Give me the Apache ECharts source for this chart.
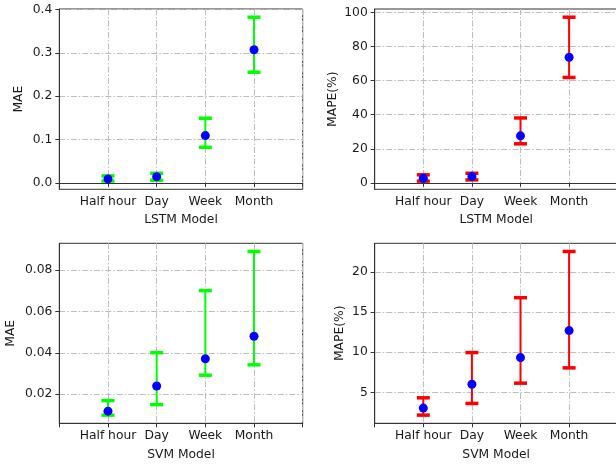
<!DOCTYPE html>
<html>
<head>
<meta charset="utf-8">
<script src="https://cdn.jsdelivr.net/npm/echarts@6/dist/echarts.min.js"></script>
<style>
  html, body { margin: 0; padding: 0; background: #fff; }
  #main { width: 616px; height: 464px; }
</style>
</head>
<body>
<div id="main"></div>
<script>
// categories
const cats = ['Half hour', 'Day', 'Week', 'Month']

// LSTM MAE
const lstmMae = [0.009, 0.014, 0.109, 0.307]
const lstmMaeLo = [0.004, 0.006, 0.082, 0.255]
const lstmMaeHi = [0.016, 0.022, 0.149, 0.382]
// LSTM MAPE(%)
const lstmMape = [2.7, 3.7, 27.6, 73.8]
const lstmMapeLo = [1.0, 1.7, 22.9, 61.9]
const lstmMapeHi = [4.7, 5.6, 38.1, 97.3]
// SVM MAE
const svmMae = [0.0118, 0.024, 0.0371, 0.048]
const svmMaeLo = [0.0099, 0.015, 0.0292, 0.0342]
const svmMaeHi = [0.0169, 0.0401, 0.0701, 0.089]
// SVM MAPE(%)
const svmMape = [3.06, 6.03, 9.34, 12.69]
const svmMapeLo = [2.19, 3.64, 6.16, 8.06]
const svmMapeHi = [4.34, 9.96, 16.78, 22.52]

// tick labels
const lstmMaeTicks = [0, 0.1, 0.2, 0.3, 0.4]
const lstmMapeTicks = [0, 20, 40, 60, 80, 100]
const svmMaeTicks = [0.02, 0.04, 0.06, 0.08]
const svmMapeTicks = [5, 10, 15, 20]

const FONT = 'DejaVu Sans'
const TEXT = '#1a1a1a'
const SPINE = '#333'
const GRIDLINE = { color: '#bdbdbd', width: 1, type: [6, 2, 1.5, 2] }

// matplotlib style autoscale (5% margin)
function limits(lo, hi) {
  let a = Math.min(...lo), b = Math.max(...hi)
  let m = (b - a) * 0.05
  return [a - m, b + m]
}

function renderErr(params, api) {
  let x = api.value(0)
  let pLo = api.coord([x, api.value(1)])
  let pHi = api.coord([x, api.value(2)])
  let col = api.visual('color')
  let cap = 6.5
  return {
    type: 'group',
    children: [
      { type: 'line', shape: { x1: pLo[0], y1: pLo[1], x2: pHi[0], y2: pHi[1] }, style: { stroke: col, lineWidth: 2 } },
      { type: 'line', shape: { x1: pLo[0] - cap, y1: pLo[1], x2: pLo[0] + cap, y2: pLo[1] }, style: { stroke: col, lineWidth: 3.5 } },
      { type: 'line', shape: { x1: pHi[0] - cap, y1: pHi[1], x2: pHi[0] + cap, y2: pHi[1] }, style: { stroke: col, lineWidth: 3.5 } }
    ]
  }
}

const panels = [
  { mean: lstmMae, lo: lstmMaeLo, hi: lstmMaeHi, ticks: lstmMaeTicks, dec: 1, yName: 'MAE', xName: 'LSTM Model', color: '#00ff00',
    grid: { left: 59.3, top: 9, width: 243.4, height: 180.3 }, yGap: 34, xGap: 25 },
  { mean: lstmMape, lo: lstmMapeLo, hi: lstmMapeHi, ticks: lstmMapeTicks, dec: 0, yName: 'MAPE(%)', xName: 'LSTM Model', color: '#ff0000',
    grid: { left: 374.7, top: 9, width: 243, height: 180.3 }, yGap: 36, xGap: 25 },
  { mean: svmMae, lo: svmMaeLo, hi: svmMaeHi, ticks: svmMaeTicks, dec: 2, yName: 'MAE', xName: 'SVM Model', color: '#00ff00',
    grid: { left: 59.3, top: 243.3, width: 243.4, height: 180 }, yGap: 42, xGap: 26 },
  { mean: svmMape, lo: svmMapeLo, hi: svmMapeHi, ticks: svmMapeTicks, dec: 0, yName: 'MAPE(%)', xName: 'SVM Model', color: '#ff0000',
    grid: { left: 374.7, top: 243.3, width: 243, height: 180 }, yGap: 29, xGap: 26 }
]

let grids = [], xAxes = [], yAxes = [], series = []
panels.forEach((p, i) => {
  grids.push(Object.assign({
    show: true,
    borderColor: SPINE,
    borderWidth: 1,
    backgroundColor: 'transparent',
    outerBoundsMode: 'none',
    containLabel: false
  }, p.grid))
  xAxes.push({
    gridIndex: i,
    type: 'value',
    min: 0,
    max: 5,
    interval: 1,
    name: p.xName,
    nameLocation: 'middle',
    nameGap: p.xGap,
    nameTextStyle: { fontFamily: FONT, fontSize: 12.3, color: TEXT },
    axisLine: { show: true, lineStyle: { color: SPINE, width: 1 } },
    axisTick: { show: true, inside: false, length: 4, lineStyle: { color: SPINE } },
    axisLabel: {
      margin: 7,
      fontFamily: FONT,
      fontSize: 12.3,
      color: TEXT,
      formatter: v => (v >= 1 && v <= 4 ? cats[v - 1] : '')
    },
    splitLine: { show: true, lineStyle: GRIDLINE }
  })
  let lim = limits(p.lo, p.hi)
  yAxes.push({
    gridIndex: i,
    type: 'value',
    min: lim[0],
    max: lim[1],
    name: p.yName,
    nameLocation: 'middle',
    nameGap: p.yGap,
    nameTextStyle: { fontFamily: FONT, fontSize: 12.3, color: TEXT },
    axisLine: { show: true, lineStyle: { color: SPINE, width: 1 } },
    axisTick: { show: true, inside: false, length: 4, lineStyle: { color: SPINE }, customValues: p.ticks },
    axisLabel: {
      margin: 7,
      fontFamily: FONT,
      fontSize: 12.3,
      color: TEXT,
      customValues: p.ticks,
      formatter: v => v.toFixed(p.dec)
    },
    splitLine: { show: true, lineStyle: GRIDLINE }
  })
  series.push({
    type: 'custom',
    xAxisIndex: i,
    yAxisIndex: i,
    renderItem: renderErr,
    itemStyle: { color: p.color },
    encode: { x: 0, y: [1, 2] },
    clip: false,
    z: 2,
    data: cats.map((c, k) => [k + 1, p.lo[k], p.hi[k]])
  })
  series.push({
    type: 'scatter',
    xAxisIndex: i,
    yAxisIndex: i,
    symbol: 'circle',
    symbolSize: 9,
    itemStyle: { color: '#0000ff', opacity: 1 },
    z: 3,
    data: cats.map((c, k) => [k + 1, p.mean[k]])
  })
})

let chart = echarts.init(document.getElementById('main'))
chart.setOption({
  animation: false,
  backgroundColor: '#fff',
  grid: grids,
  xAxis: xAxes,
  yAxis: yAxes,
  series: series
})
window.addEventListener('resize', () => { chart.resize() })
</script>
</body>
</html>
